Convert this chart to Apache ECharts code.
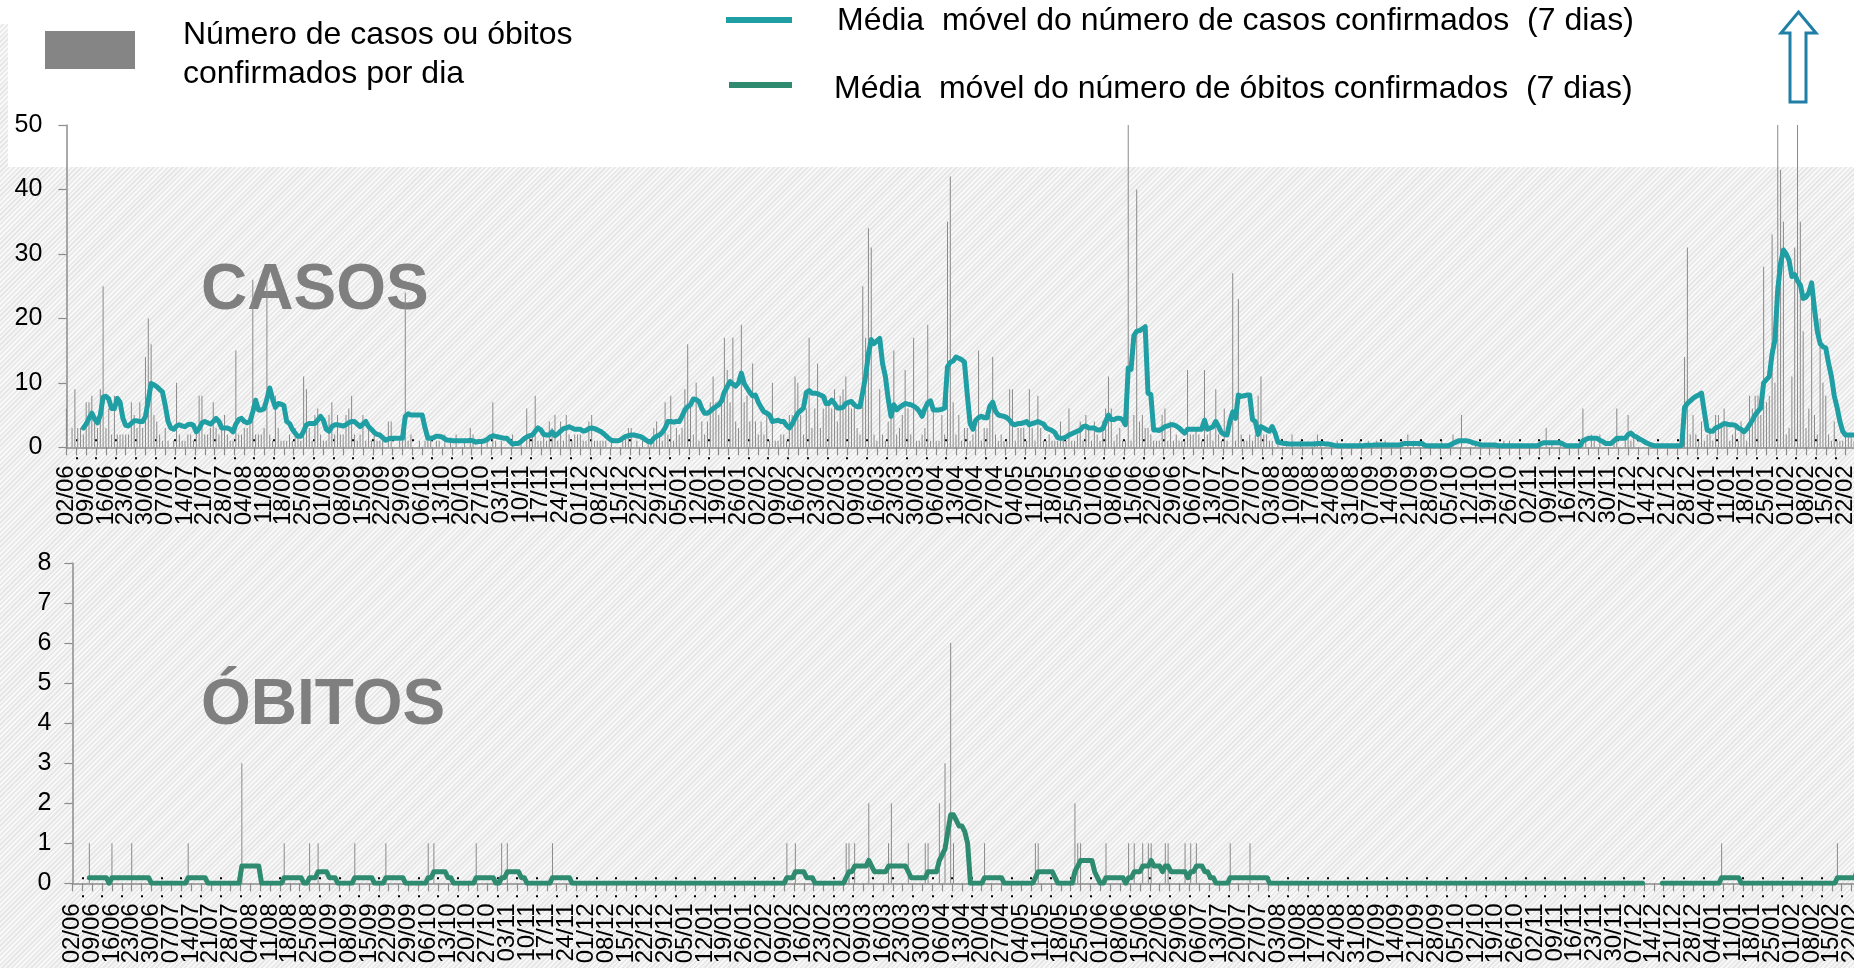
<!DOCTYPE html>
<html lang="pt">
<head>
<meta charset="utf-8">
<title>Casos e óbitos confirmados por dia</title>
<script src="https://cdn.jsdelivr.net/npm/echarts@6/dist/echarts.min.js"></script>
<style>
  html, body { margin: 0; padding: 0; width: 1854px; height: 968px; overflow: hidden; }
  body {
    position: relative;
    background: repeating-linear-gradient(135deg, #f8f8f8 0px, #f8f8f8 1.7px, #e7e7e7 1.7px, #e7e7e7 3.4px);
  }
  #top-band { position: absolute; left: 8px; top: 0; width: 1846px; height: 167px; background: #fff; }
  #corner { position: absolute; left: 0; top: 0; width: 8px; height: 24px; background: #fff; }
  #chart { position: absolute; left: 0; top: 0; width: 1854px; height: 968px; }
</style>
</head>
<body>
<div id="top-band"></div>
<div id="corner"></div>
<div id="chart"></div>
<script>
// Weekly tick labels (Tuesdays), starting 02/06/2020
const weekLabels = [
  '02/06','09/06','16/06','23/06','30/06','07/07','14/07','21/07','28/07','04/08',
  '11/08','18/08','25/08','01/09','08/09','15/09','22/09','29/09','06/10','13/10',
  '20/10','27/10','03/11','10/11','17/11','24/11','01/12','08/12','15/12','22/12',
  '29/12','05/01','12/01','19/01','26/01','02/02','09/02','16/02','23/02','02/03',
  '09/03','16/03','23/03','30/03','06/04','13/04','20/04','27/04','04/05','11/05',
  '18/05','25/05','01/06','08/06','15/06','22/06','29/06','06/07','13/07','20/07',
  '27/07','03/08','10/08','17/08','24/08','31/08','07/09','14/09','21/09','28/09',
  '05/10','12/10','19/10','26/10','02/11','09/11','16/11','23/11','30/11','07/12',
  '14/12','21/12','28/12','04/01','11/01','18/01','25/01','01/02','08/02','15/02',
  '22/02'
];

// Confirmed cases per day (one row per week)
const casesDaily = [
  6,0,3,9,3,3,2,
  7,7,8,4,3,9,25,
  3,6,2,8,2,2,2,
  2,2,7,5,3,7,3,
  14,20,16,5,4,2,1,
  3,1,0,1,10,2,1,
  1,2,2,1,3,8,8,
  2,2,3,7,3,2,4,
  5,2,1,1,15,2,2,
  3,3,4,26,2,2,2,
  3,26,2,1,8,3,1,
  1,1,2,1,3,2,1,
  11,9,3,1,5,6,2,
  1,1,5,7,2,5,2,
  2,5,6,8,2,1,2,
  5,1,3,1,2,1,1,
  1,0,4,4,0,0,1,
  1,24,1,2,0,0,1,
  0,1,1,1,0,1,1,
  0,2,0,1,0,2,0,
  0,1,0,3,2,0,0,
  1,0,1,0,7,1,0,
  1,0,0,0,2,0,0,
  1,0,6,2,2,8,1,
  1,2,1,4,3,5,1,
  4,1,5,2,1,2,2,
  2,1,1,4,5,1,1,
  1,1,1,0,1,0,0,
  0,1,2,3,3,0,1,
  0,1,0,1,1,3,4,
  2,1,7,2,8,1,3,
  2,3,9,16,7,2,10,
  1,4,2,4,7,11,7,
  5,7,17,12,7,17,4,
  3,19,7,8,4,13,4,
  2,4,2,5,1,10,1,
  1,2,2,1,5,5,11,
  10,5,2,6,17,3,6,
  13,3,6,8,7,6,9,
  4,8,9,11,7,6,7,
  3,2,25,17,34,31,2,
  1,9,2,1,4,5,15,
  2,3,5,12,6,2,17,
  1,1,2,3,19,1,6,
  1,1,5,2,35,42,7,
  2,5,1,3,3,1,2,
  3,15,1,3,3,5,14,
  2,1,2,1,1,9,9,
  1,3,3,3,1,9,3,
  1,8,3,1,1,2,1,
  1,1,4,1,1,6,1,
  1,2,4,1,5,3,1,
  4,2,1,4,6,11,6,
  1,2,3,1,1,62,1,
  5,40,4,5,3,3,2,
  1,1,1,5,6,1,4,
  1,2,1,1,1,12,2,
  2,3,2,1,12,2,3,
  1,9,2,1,6,1,0,
  27,1,23,2,1,1,2,
  1,2,8,11,2,2,1,
  1,0,1,0,0,1,0,
  2,0,0,1,0,0,0,
  0,1,2,1,0,0,0,
  0,0,1,0,0,0,0,
  0,0,0,1,0,0,1,
  0,0,1,0,0,1,0,
  0,0,0,0,1,0,2,
  0,1,0,1,0,0,0,
  0,0,0,0,1,0,0,
  0,2,0,0,5,0,0,
  0,0,1,0,0,0,0,
  0,0,0,0,0,1,0,
  1,0,0,0,0,0,0,
  0,0,0,0,1,0,3,
  0,1,0,0,1,0,0,
  0,0,0,0,0,6,1,
  0,2,1,0,2,0,0,
  0,0,1,6,0,0,1,
  5,1,2,0,0,0,0,
  0,0,0,0,0,0,0,
  0,0,0,0,0,0,14,
  31,2,5,2,1,4,1,
  2,3,1,5,5,3,6,
  4,1,2,3,1,4,2,
  1,8,6,8,8,5,28,
  7,8,33,10,55,43,35,
  2,3,11,31,55,35,18,
  3,6,23,5,2,20,10,
  8,2,1,4,1,1,1,
  2,2,2,1
];

// 7-day moving average of confirmed cases
const casesAvg7 = [
  null,null,null,null,null,null,3.0,
  3.6,4.5,5.3,4.4,3.8,5.0,7.8,
  7.9,7.5,6.0,6.0,7.6,7.0,4.5,
  3.4,3.3,3.7,4.1,4.1,4.0,4.0,
  4.8,7.3,9.9,9.7,9.4,9.0,8.6,
  6.5,4.0,3.0,2.8,3.3,3.5,3.3,
  3.2,3.5,3.6,3.4,2.4,2.9,3.8,
  4.0,3.8,3.6,4.0,4.5,4.0,3.0,
  3.0,3.0,2.8,2.4,3.6,4.3,4.5,
  4.0,3.8,4.0,5.5,7.3,5.8,5.8,
  6.0,7.5,9.2,7.5,6.2,6.8,6.7,
  6.5,4.0,3.7,2.8,2.2,1.7,1.7,
  2.5,3.5,3.7,3.7,3.7,4.2,4.8,
  4.2,2.8,2.5,3.2,3.5,3.5,3.4,
  3.3,3.5,3.8,4.0,4.0,3.6,3.2,
  3.6,4.0,3.2,2.8,2.3,2.0,1.9,
  1.5,1.1,1.3,1.4,1.4,1.4,1.4,
  1.4,4.8,5.2,5.0,5.0,5.0,5.0,
  5.0,3.0,1.4,1.4,1.5,1.7,1.7,
  1.6,1.3,1.1,1.1,1.0,1.0,1.0,
  1.0,1.0,1.0,1.1,1.0,0.8,0.9,
  0.9,1.0,1.2,1.6,1.8,1.7,1.6,
  1.5,1.4,1.4,0.9,0.5,0.6,0.6,
  0.9,1.3,1.6,1.8,1.9,2.5,3.0,
  2.7,2.0,1.9,1.9,2.4,1.8,2.1,
  2.5,2.9,3.0,3.2,3.0,2.8,2.8,
  2.8,2.5,2.6,2.9,3.0,2.9,2.7,
  2.5,2.2,1.8,1.4,1.1,1.0,1.0,
  1.1,1.4,1.7,1.8,1.9,1.9,1.8,
  1.7,1.5,1.2,0.9,0.8,1.4,1.7,
  1.9,2.3,3.0,4.0,4.0,3.9,4.0,
  4.0,4.8,5.8,6.3,6.6,7.5,7.4,
  7.1,6.0,5.3,5.3,5.6,6.0,6.3,
  6.6,7.2,8.6,9.4,10.2,9.8,9.5,
  10.0,11.5,9.9,9.2,8.5,8.0,8.1,
  7.0,6.2,5.5,5.3,5.0,4.0,4.1,
  4.2,4.0,4.0,3.4,3.0,3.6,4.5,
  5.3,5.7,6.1,8.5,8.8,8.4,8.4,
  8.3,8.1,7.9,6.8,6.8,7.3,6.8,
  6.1,6.1,6.2,6.8,7.0,7.1,6.6,
  6.3,6.3,8.6,11.0,14.5,16.7,16.1,
  16.5,16.9,13.0,11.0,7.5,4.8,6.6,
  5.8,6.2,6.5,6.8,6.7,6.6,6.4,
  6.1,5.6,4.8,6.0,6.9,7.2,5.8,
  5.8,5.8,5.9,6.1,12.5,13.2,13.4,
  14.0,13.8,13.6,13.2,8.2,3.7,2.8,
  4.2,4.6,4.8,4.6,4.6,6.4,7.0,
  5.6,5.0,4.9,4.8,4.6,4.2,3.6,
  3.5,3.7,3.7,3.8,4.0,3.5,3.7,
  3.8,4.0,3.8,3.6,3.0,2.8,2.6,
  2.3,1.5,1.4,1.4,1.6,1.9,2.1,
  2.3,2.5,2.7,3.2,3.3,3.0,3.0,
  3.0,2.7,2.7,2.9,4.0,5.0,4.3,
  4.3,4.5,4.5,4.3,3.5,12.3,12.1,
  17.3,18.0,18.1,18.4,18.7,8.4,8.2,
  2.7,2.7,2.6,2.9,3.2,3.3,3.5,
  3.5,3.3,3.0,2.6,2.2,2.8,2.8,
  2.8,2.8,2.8,2.8,4.2,2.8,3.0,
  3.2,4.0,3.2,2.3,2.0,1.9,4.0,
  5.5,4.5,8.1,7.9,8.0,8.1,8.1,
  4.3,4.0,2.0,3.2,3.0,2.7,2.5,
  3.2,2.2,0.8,0.7,0.6,0.6,0.5,
  0.5,0.5,0.5,0.5,0.5,0.5,0.5,
  0.5,0.5,0.6,0.6,0.6,0.5,0.5,
  0.4,0.3,0.25,0.25,0.25,0.25,0.25,
  0.25,0.25,0.25,0.25,0.25,0.3,0.3,
  0.3,0.35,0.35,0.35,0.35,0.35,0.35,
  0.35,0.35,0.35,0.35,0.5,0.6,0.6,
  0.6,0.6,0.6,0.6,0.6,0.3,0.25,
  0.25,0.25,0.25,0.25,0.25,0.25,0.25,
  0.35,0.6,0.8,1.0,1.0,1.0,1.0,
  0.9,0.7,0.6,0.5,0.35,0.35,0.35,
  0.35,0.35,0.35,0.25,0.25,0.25,0.25,
  0.25,0.25,0.25,0.25,0.25,0.25,0.25,
  0.25,0.25,0.25,0.25,0.5,0.7,0.7,
  0.7,0.7,0.7,0.7,0.7,0.5,0.25,
  0.25,0.25,0.25,0.25,0.25,1.0,1.2,
  1.4,1.4,1.4,1.4,1.1,0.9,0.6,
  0.6,0.6,1.0,1.4,1.4,1.4,1.4,
  2.0,2.2,1.8,1.6,1.3,1.1,0.8,
  0.6,0.4,0.25,0.25,0.25,0.25,0.25,
  0.25,0.25,0.25,0.25,0.25,0.3,6.2,
  6.8,7.2,7.6,7.9,8.1,8.4,5.5,
  2.7,2.5,2.5,3.0,3.2,3.4,3.7,
  3.6,3.5,3.5,3.4,3.0,2.8,2.4,
  2.8,3.5,4.2,5.0,5.6,6.1,10.0,
  10.5,11.0,14.5,16.7,24.5,28.5,30.6,
  30.0,29.0,26.5,26.8,25.8,25.2,23.1,
  23.3,24.0,25.5,21.5,18.0,16.1,15.6,
  15.4,13.0,11.0,8.0,6.2,4.0,2.5,
  1.9,1.9,1.9,1.9
];

// Confirmed deaths per day
const deathsDaily = [
  0,0,0,0,0,0,1,
  0,0,0,0,0,0,0,
  1,0,0,0,0,0,0,
  1,0,0,0,0,0,0,
  0,0,0,0,0,0,0,
  0,0,0,0,0,0,1,
  0,0,0,0,0,0,0,
  0,0,0,0,0,0,0,
  0,0,0,0,3,0,0,
  0,0,0,0,0,0,0,
  0,0,0,0,0,1,0,
  0,0,0,0,0,0,0,
  1,0,0,1,0,0,0,
  0,0,0,0,0,0,0,
  0,0,1,0,0,0,0,
  0,0,0,0,0,0,1,
  0,0,0,0,0,0,0,
  0,0,0,0,0,0,0,
  1,0,1,0,0,0,0,
  0,0,0,0,0,0,0,
  0,0,0,1,0,0,0,
  0,0,0,0,0,1,0,
  1,0,0,0,0,0,0,
  0,0,0,0,0,0,0,
  0,0,1,0,0,0,0,
  0,0,0,0,0,0,0,
  0,0,0,0,0,0,0,
  0,0,0,0,0,0,0,
  0,0,0,0,0,0,0,
  0,0,0,0,0,0,0,
  0,0,0,0,0,0,0,
  0,0,0,0,0,0,0,
  0,0,0,0,0,0,0,
  0,0,0,0,0,0,0,
  0,0,0,0,0,0,0,
  0,0,0,0,0,0,0,
  0,1,0,0,1,0,0,
  0,0,0,0,0,0,0,
  0,0,0,0,0,0,0,
  0,1,1,0,1,0,0,
  0,0,2,0,0,0,0,
  0,0,1,2,0,0,0,
  0,0,1,0,0,0,0,
  0,1,1,0,0,0,2,
  0,3,0,6,1,0,0,
  0,0,0,0,0,0,0,
  0,1,0,0,0,0,0,
  0,0,0,0,0,0,0,
  0,0,0,0,0,1,1,
  0,0,0,0,0,0,0,
  0,0,0,0,0,2,1,
  1,0,0,0,0,0,0,
  0,0,1,0,0,0,0,
  0,0,0,1,0,1,0,
  0,1,0,1,1,0,0,
  0,0,1,1,0,0,0,
  0,0,1,0,1,0,1,
  0,0,0,0,0,0,0,
  0,0,0,0,1,0,0,
  0,0,0,0,1,0,0,
  0,0,0,0,0,0,0,
  0,0,0,0,0,0,0,
  0,0,0,0,0,0,0,
  0,0,0,0,0,0,0,
  0,0,0,0,0,0,0,
  0,0,0,0,0,0,0,
  0,0,0,0,0,0,0,
  0,0,0,0,0,0,0,
  0,0,0,0,0,0,0,
  0,0,0,0,0,0,0,
  0,0,0,0,0,0,0,
  0,0,0,0,0,0,0,
  0,0,0,0,0,0,0,
  0,0,0,0,0,0,0,
  0,0,0,0,0,0,0,
  0,0,0,0,0,0,0,
  0,0,0,0,0,0,0,
  0,0,0,0,0,0,0,
  0,0,0,0,0,0,0,
  0,0,0,0,0,0,0,
  0,0,0,0,0,0,0,
  0,0,0,0,0,0,0,
  0,0,0,0,0,0,0,
  0,0,0,1,0,0,0,
  0,0,0,0,0,0,0,
  0,0,0,0,0,0,0,
  0,0,0,0,0,0,0,
  0,0,0,0,0,0,0,
  0,0,0,0,0,0,0,
  0,0,1,0,0,0,0,
  0,0,0,0
];

// 7-day moving average of confirmed deaths
const deathsAvg7 = [
  null,null,null,null,null,null,0.14,
  0.14,0.14,0.14,0.14,0.14,0.14,0,
  0.14,0.14,0.14,0.14,0.14,0.14,0.14,
  0.14,0.14,0.14,0.14,0.14,0.14,0.14,
  0,0,0,0,0,0,0,
  0,0,0,0,0,0,0.14,
  0.14,0.14,0.14,0.14,0.14,0.14,0,
  0,0,0,0,0,0,0,
  0,0,0,0,0.43,0.43,0.43,
  0.43,0.43,0.43,0.43,0,0,0,
  0,0,0,0,0,0.14,0.14,
  0.14,0.14,0.14,0.14,0.14,0,0,
  0.14,0.14,0.14,0.29,0.29,0.29,0.29,
  0.14,0.14,0.14,0,0,0,0,
  0,0,0.14,0.14,0.14,0.14,0.14,
  0.14,0.14,0,0,0,0,0.14,
  0.14,0.14,0.14,0.14,0.14,0.14,0,
  0,0,0,0,0,0,0,
  0.14,0.14,0.29,0.29,0.29,0.29,0.29,
  0.14,0.14,0,0,0,0,0,
  0,0,0,0.14,0.14,0.14,0.14,
  0.14,0.14,0.14,0,0,0.14,0.14,
  0.29,0.29,0.29,0.29,0.29,0.14,0.14,
  0,0,0,0,0,0,0,
  0,0,0.14,0.14,0.14,0.14,0.14,
  0.14,0.14,0,0,0,0,0,
  0,0,0,0,0,0,0,
  0,0,0,0,0,0,0,
  0,0,0,0,0,0,0,
  0,0,0,0,0,0,0,
  0,0,0,0,0,0,0,
  0,0,0,0,0,0,0,
  0,0,0,0,0,0,0,
  0,0,0,0,0,0,0,
  0,0,0,0,0,0,0,
  0,0,0,0,0,0,0,
  0,0.14,0.14,0.14,0.29,0.29,0.29,
  0.29,0.14,0.14,0.14,0,0,0,
  0,0,0,0,0,0,0,
  0,0.14,0.29,0.29,0.43,0.43,0.43,
  0.43,0.43,0.57,0.43,0.29,0.29,0.29,
  0.29,0.29,0.43,0.43,0.43,0.43,0.43,
  0.43,0.43,0.29,0.14,0.14,0.14,0.14,
  0.14,0.14,0.29,0.29,0.29,0.29,0.57,
  0.71,0.86,1.29,1.71,1.71,1.57,1.43,
  1.43,1.29,1.0,0,0,0,0,
  0,0.14,0.14,0.14,0.14,0.14,0.14,
  0.14,0,0,0,0,0,0,
  0,0,0,0,0,0.14,0.29,
  0.29,0.29,0.29,0.29,0.29,0.14,0,
  0,0,0,0,0,0.29,0.43,
  0.57,0.57,0.57,0.57,0.57,0.29,0.14,
  0,0,0.14,0.14,0.14,0.14,0.14,
  0.14,0.14,0,0.14,0.14,0.29,0.29,
  0.29,0.43,0.43,0.43,0.57,0.43,0.43,
  0.43,0.29,0.43,0.43,0.29,0.29,0.29,
  0.29,0.29,0.29,0.14,0.29,0.29,0.43,
  0.43,0.43,0.29,0.29,0.14,0.14,0,
  0,0,0,0,0.14,0.14,0.14,
  0.14,0.14,0.14,0.14,0.14,0.14,0.14,
  0.14,0.14,0.14,0.14,0,0,0,
  0,0,0,0,0,0,0,
  0,0,0,0,0,0,0,
  0,0,0,0,0,0,0,
  0,0,0,0,0,0,0,
  0,0,0,0,0,0,0,
  0,0,0,0,0,0,0,
  0,0,0,0,0,0,0,
  0,0,0,0,0,0,0,
  0,0,0,0,0,0,0,
  0,0,0,0,0,0,0,
  0,0,0,0,0,0,0,
  0,0,0,0,0,0,0,
  0,0,0,0,0,0,0,
  0,0,0,0,0,0,0,
  0,0,0,0,0,0,0,
  0,0,0,0,0,0,0,
  0,0,0,0,0,0,0,
  0,0,0,0,0,0,0,
  0,0,0,0,null,null,null,
  null,null,null,0,0,0,0,
  0,0,0,0,0,0,0,
  0,0,0,0,0,0,0,
  0,0,0,0.14,0.14,0.14,0.14,
  0.14,0.14,0.14,0,0,0,0,
  0,0,0,0,0,0,0,
  0,0,0,0,0,0,0,
  0,0,0,0,0,0,0,
  0,0,0,0,0,0,0,
  0,0,0.14,0.14,0.14,0.14,0.14,
  0.14,0.14,0.29,0.29
];

const FONT = '"Liberation Sans", Arial, sans-serif';
const AXIS_COLOR = '#8c8c8c';
const BAR_COLOR = '#8a8a8a';
const CASES_COLOR = '#1f9ea3';
const DEATHS_COLOR = '#2e8b6f';
const TITLE_COLOR = '#7f7f7f';
const DAYS_SPAN = weekLabels.length * 7;

const asPoints = arr => arr.map((v, i) => [i, v]);

function weekLabelAt(v) {
  const k = Math.round(v / 7);
  return Math.abs(v - 7 * k) < 1e-6 ? (weekLabels[k] || '') : '';
}

// Day axis: ticks every half week, a date label on each week start
function dayAxis(gridIndex, labelMargin) {
  return {
    type: 'value', gridIndex, min: 0, max: DAYS_SPAN, interval: 3.5,
    axisLine: { show: true, onZero: false, lineStyle: { color: AXIS_COLOR, width: 1.5 } },
    axisTick: { show: true, length: 8, lineStyle: { color: AXIS_COLOR, width: 1.2 } },
    axisLabel: {
      show: true, rotate: 90, margin: labelMargin, fontSize: 24, fontFamily: FONT,
      color: '#000', formatter: weekLabelAt
    },
    splitLine: { show: false }
  };
}

// Row of small black marks at mid-week, just above/below the day axis
function weekMarks(gridIndex, offset) {
  return {
    type: 'category', gridIndex, data: weekLabels, boundaryGap: true,
    position: 'bottom', offset,
    axisLine: { show: false, onZero: false },
    axisTick: { show: true, alignWithLabel: true, interval: 0, length: 2,
                lineStyle: { color: '#000', width: 2 } },
    axisLabel: { show: false },
    splitLine: { show: false }
  };
}

function countAxis(gridIndex, max, interval, labelMargin) {
  return {
    type: 'value', gridIndex, min: 0, max, interval,
    axisLine: { show: true, onZero: false, lineStyle: { color: AXIS_COLOR, width: 1.5 } },
    axisTick: { show: true, length: 8, lineStyle: { color: AXIS_COLOR, width: 1.2 } },
    axisLabel: { margin: labelMargin, fontSize: 25, fontFamily: FONT, color: '#000' },
    splitLine: { show: false }
  };
}

const chart = echarts.init(document.getElementById('chart'), null, { renderer: 'canvas' });

chart.setOption({
  backgroundColor: 'transparent',
  animation: false,
  grid: [
    { left: 66.4, top: 125, width: 1798.9, height: 322.3, outerBoundsMode: 'none', containLabel: false },
    { left: 72.4, top: 563, width: 1798.9, height: 320.3, outerBoundsMode: 'none', containLabel: false }
  ],
  xAxis: [
    dayAxis(0, 18),
    weekMarks(0, -8),
    weekMarks(0, 10),
    dayAxis(1, 20),
    weekMarks(1, -6),
    weekMarks(1, 12)
  ],
  yAxis: [
    countAxis(0, 50, 10, 24),
    countAxis(1, 8, 1, 21)
  ],
  series: [
    {
      name: 'Número de casos ou óbitos confirmados por dia',
      type: 'bar', xAxisIndex: 0, yAxisIndex: 0, barWidth: 1, clip: true,
      itemStyle: { color: BAR_COLOR }, z: 2,
      data: asPoints(casesDaily)
    },
    {
      name: 'Média  móvel do número de casos confirmados  (7 dias)',
      type: 'line', xAxisIndex: 0, yAxisIndex: 0, symbol: 'none', connectNulls: false,
      lineStyle: { color: CASES_COLOR, width: 5, cap: 'round', join: 'round' }, z: 3,
      data: asPoints(casesAvg7)
    },
    {
      name: 'Óbitos confirmados por dia',
      type: 'bar', xAxisIndex: 3, yAxisIndex: 1, barWidth: 1, clip: true,
      itemStyle: { color: BAR_COLOR }, z: 2,
      data: asPoints(deathsDaily)
    },
    {
      name: 'Média  móvel do número de óbitos confirmados  (7 dias)',
      type: 'line', xAxisIndex: 3, yAxisIndex: 1, symbol: 'none', connectNulls: false,
      lineStyle: { color: DEATHS_COLOR, width: 5, cap: 'round', join: 'round' }, z: 3,
      data: asPoints(deathsAvg7)
    }
  ],
  graphic: [
    // legend: daily counts
    { type: 'rect', shape: { x: 45, y: 31, width: 90, height: 38 }, style: { fill: '#858585' }, z: 10 },
    { type: 'text', x: 183, y: 35.5, z: 10,
      style: { text: 'Número de casos ou óbitos', font: '32px ' + FONT, fill: '#000', verticalAlign: 'middle' } },
    { type: 'text', x: 183, y: 74.5, z: 10,
      style: { text: 'confirmados por dia', font: '32px ' + FONT, fill: '#000', verticalAlign: 'middle' } },
    // legend: moving averages
    { type: 'line', shape: { x1: 726, y1: 20, x2: 792, y2: 20 }, style: { stroke: CASES_COLOR, lineWidth: 6 }, z: 10 },
    { type: 'text', x: 837, y: 21, z: 10,
      style: { text: 'Média  móvel do número de casos confirmados  (7 dias)', font: '32px ' + FONT, fill: '#000', verticalAlign: 'middle' } },
    { type: 'line', shape: { x1: 729, y1: 85, x2: 792, y2: 85 }, style: { stroke: DEATHS_COLOR, lineWidth: 6 }, z: 10 },
    { type: 'text', x: 834, y: 89, z: 10,
      style: { text: 'Média  móvel do número de óbitos confirmados  (7 dias)', font: '32px ' + FONT, fill: '#000', verticalAlign: 'middle' } },
    // up arrow
    { type: 'polygon', z: 10,
      shape: { points: [[1798.5, 12], [1816, 33], [1806, 33], [1806, 102], [1790, 102], [1790, 33], [1781, 33]] },
      style: { fill: '#fff', stroke: '#1f7fa6', lineWidth: 3 } },
    // panel titles
    { type: 'text', x: 201, y: 291, z: 1,
      style: { text: 'CASOS', font: 'bold 64px ' + FONT, fill: TITLE_COLOR, verticalAlign: 'middle' } },
    { type: 'text', x: 201, y: 706, z: 1,
      style: { text: 'ÓBITOS', font: 'bold 64px ' + FONT, fill: TITLE_COLOR, verticalAlign: 'middle' } }
  ]
});
</script>
</body>
</html>
